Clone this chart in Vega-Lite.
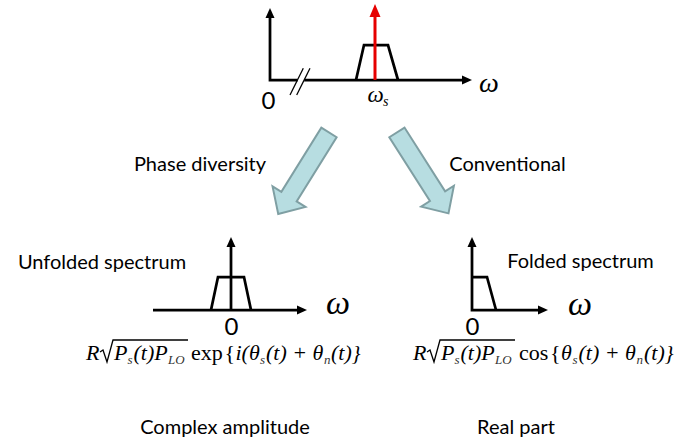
{
  "$schema": "https://vega.github.io/schema/vega-lite/v6.json",
  "width": 693,
  "height": 443,
  "autosize": {"type": "fit", "contains": "padding"},
  "padding": 0,
  "background": "white",
  "config": {"view": {"stroke": null}},
  "datasets": {
    "arrows": [
      {"name": "Phase diversity", "x": 303.6, "y": 173.2},
      {"name": "Conventional", "x": 422.7, "y": 172.9}
    ],
    "lines": [
      {"seg": "top-axis", "i": 0, "x": 270, "y": 14},
      {"seg": "top-axis", "i": 1, "x": 270, "y": 80},
      {"seg": "top-axis", "i": 2, "x": 297.5, "y": 80},
      {"seg": "top-axis-2", "i": 0, "x": 304.2, "y": 80},
      {"seg": "top-axis-2", "i": 1, "x": 464, "y": 80},
      {"seg": "top-band", "i": 0, "x": 356, "y": 80},
      {"seg": "top-band", "i": 1, "x": 364, "y": 45},
      {"seg": "top-band", "i": 2, "x": 388, "y": 45},
      {"seg": "top-band", "i": 3, "x": 398, "y": 80},
      {"seg": "ul-h", "i": 0, "x": 153, "y": 310},
      {"seg": "ul-h", "i": 1, "x": 299, "y": 310},
      {"seg": "ul-v", "i": 0, "x": 231, "y": 310},
      {"seg": "ul-v", "i": 1, "x": 231, "y": 244},
      {"seg": "ul-band", "i": 0, "x": 211, "y": 310},
      {"seg": "ul-band", "i": 1, "x": 218, "y": 277},
      {"seg": "ul-band", "i": 2, "x": 244, "y": 277},
      {"seg": "ul-band", "i": 3, "x": 251, "y": 310},
      {"seg": "ur-axes", "i": 0, "x": 472, "y": 244},
      {"seg": "ur-axes", "i": 1, "x": 472, "y": 310},
      {"seg": "ur-axes", "i": 2, "x": 540, "y": 310},
      {"seg": "ur-band", "i": 0, "x": 472, "y": 277},
      {"seg": "ur-band", "i": 1, "x": 487, "y": 277},
      {"seg": "ur-band", "i": 2, "x": 496, "y": 310}
    ],
    "thin": [
      {"seg": "break-1", "i": 0, "x": 290, "y": 95},
      {"seg": "break-1", "i": 1, "x": 303.3, "y": 68.3},
      {"seg": "break-2", "i": 0, "x": 296.7, "y": 95},
      {"seg": "break-2", "i": 1, "x": 310, "y": 68.3},
      {"seg": "root-left", "i": 0, "x": 100, "y": 352},
      {"seg": "root-left", "i": 1, "x": 103, "y": 350},
      {"seg": "root-left", "i": 2, "x": 107, "y": 362},
      {"seg": "root-left", "i": 3, "x": 113, "y": 340},
      {"seg": "root-left", "i": 4, "x": 188, "y": 340},
      {"seg": "root-right", "i": 0, "x": 427, "y": 352},
      {"seg": "root-right", "i": 1, "x": 430, "y": 350},
      {"seg": "root-right", "i": 2, "x": 434, "y": 362},
      {"seg": "root-right", "i": 3, "x": 440, "y": 340},
      {"seg": "root-right", "i": 4, "x": 515, "y": 340}
    ],
    "red": [
      {"seg": "carrier", "i": 0, "x": 375, "y": 80},
      {"seg": "carrier", "i": 1, "x": 375, "y": 16}
    ],
    "redhead": [{"x": 375, "y": 4}],
    "upheads": [
      {"x": 270, "y": 8},
      {"x": 231, "y": 237},
      {"x": 472, "y": 237}
    ],
    "rightheads": [
      {"x": 472, "y": 80},
      {"x": 307, "y": 310},
      {"x": 548, "y": 310}
    ],
    "labels": [
      {"t": "Phase diversity", "x": 200, "y": 165},
      {"t": "Conventional", "x": 507.5, "y": 165},
      {"t": "Unfolded spectrum", "x": 102, "y": 263},
      {"t": "Folded spectrum", "x": 580.5, "y": 262},
      {"t": "Complex amplitude", "x": 225, "y": 428},
      {"t": "Real part", "x": 516, "y": 428}
    ],
    "zeros": [
      {"t": "0", "x": 268.5, "y": 101.5},
      {"t": "0", "x": 231.5, "y": 328},
      {"t": "0", "x": 472.5, "y": 328}
    ],
    "omegabig": [
      {"t": "ω", "x": 338, "y": 314},
      {"t": "ω", "x": 580, "y": 315}
    ],
    "omegatop": [{"t": "ω", "x": 489, "y": 92}],
    "omegas": [{"t": "ω", "x": 375.5, "y": 102}],
    "omegassub": [{"t": "s", "x": 383, "y": 106}],
    "fitalic": [
      {"t": "R", "x": 86, "y": 360},
      {"t": "P", "x": 114, "y": 360},
      {"t": "(t)P", "x": 133.5, "y": 360},
      {"t": "i(θ", "x": 235.5, "y": 360},
      {"t": "(t) + θ", "x": 266, "y": 360},
      {"t": "(t)}", "x": 331, "y": 360},
      {"t": "R", "x": 413, "y": 360},
      {"t": "P", "x": 441, "y": 360},
      {"t": "(t)P", "x": 460.5, "y": 360},
      {"t": "θ", "x": 561, "y": 360},
      {"t": "(t) + θ", "x": 578.5, "y": 360},
      {"t": "(t)}", "x": 644, "y": 360}
    ],
    "fupright": [
      {"t": "exp", "x": 191, "y": 360},
      {"t": "{", "x": 224.5, "y": 360},
      {"t": "cos", "x": 519, "y": 360},
      {"t": "{", "x": 550, "y": 360}
    ],
    "fsub": [
      {"t": "s", "x": 127.5, "y": 364},
      {"t": "LO", "x": 168, "y": 364},
      {"t": "s", "x": 260, "y": 364},
      {"t": "n", "x": 324, "y": 364},
      {"t": "s", "x": 454.5, "y": 364},
      {"t": "LO", "x": 495, "y": 364},
      {"t": "s", "x": 572.5, "y": 364},
      {"t": "n", "x": 636.5, "y": 364}
    ]
  },
  "encoding": {
    "x": {"field": "x", "type": "quantitative", "scale": {"domain": [0, 693], "nice": false, "zero": false}, "axis": null},
    "y": {"field": "y", "type": "quantitative", "scale": {"domain": [0, 443], "reverse": true, "nice": false, "zero": false}, "axis": null}
  },
  "layer": [
    {
      "data": {"name": "arrows"},
      "transform": [{"filter": "datum.name === 'Phase diversity'"}],
      "mark": {"type": "point", "shape": "M-0.1875,-1L0.1875,-1L0.1875,0.575L0.404,0.575L0,1L-0.404,0.575L-0.1875,0.575Z", "size": 9216, "angle": 31.9, "filled": true, "fill": "#b7dde1", "stroke": "#7f9fa3", "strokeWidth": 2, "opacity": 1, "fillOpacity": 1, "strokeOpacity": 1}
    },
    {
      "data": {"name": "arrows"},
      "transform": [{"filter": "datum.name === 'Conventional'"}],
      "mark": {"type": "point", "shape": "M-0.1875,-1L0.1875,-1L0.1875,0.575L0.404,0.575L0,1L-0.404,0.575L-0.1875,0.575Z", "size": 9216, "angle": 327.5, "filled": true, "fill": "#b7dde1", "stroke": "#7f9fa3", "strokeWidth": 2, "opacity": 1, "fillOpacity": 1, "strokeOpacity": 1}
    },
    {
      "data": {"name": "lines"},
      "mark": {"type": "line", "color": "black", "strokeWidth": 2.75, "strokeCap": "butt", "strokeJoin": "miter"},
      "encoding": {"detail": {"field": "seg"}, "order": {"field": "i"}}
    },
    {
      "data": {"name": "thin"},
      "mark": {"type": "line", "color": "black", "strokeWidth": 1.3, "strokeCap": "butt", "strokeJoin": "miter"},
      "encoding": {"detail": {"field": "seg"}, "order": {"field": "i"}}
    },
    {
      "data": {"name": "red"},
      "mark": {"type": "line", "color": "#e60000", "strokeWidth": 3, "strokeCap": "butt"},
      "encoding": {"detail": {"field": "seg"}, "order": {"field": "i"}}
    },
    {
      "data": {"name": "redhead"},
      "mark": {"type": "point", "shape": "M0,0L0.55,1.3L-0.55,1.3Z", "size": 400, "filled": true, "color": "#e60000", "opacity": 1, "strokeWidth": 0}
    },
    {
      "data": {"name": "upheads"},
      "mark": {"type": "point", "shape": "M0,0L0.45,1L-0.45,1Z", "size": 400, "filled": true, "color": "black", "opacity": 1, "strokeWidth": 0}
    },
    {
      "data": {"name": "rightheads"},
      "mark": {"type": "point", "shape": "M0,0L-1,-0.45L-1,0.45Z", "size": 400, "filled": true, "color": "black", "opacity": 1, "strokeWidth": 0}
    },
    {
      "data": {"name": "labels"},
      "mark": {"type": "text", "font": "Lato", "fontSize": 20, "color": "black", "align": "center", "baseline": "middle"},
      "encoding": {"text": {"field": "t"}}
    },
    {
      "data": {"name": "zeros"},
      "mark": {"type": "text", "font": "Lato", "fontSize": 24, "color": "black", "align": "center", "baseline": "middle"},
      "encoding": {"text": {"field": "t"}}
    },
    {
      "data": {"name": "omegabig"},
      "mark": {"type": "text", "font": "Liberation Serif", "fontStyle": "italic", "fontSize": 34, "color": "black", "align": "center", "baseline": "alphabetic"},
      "encoding": {"text": {"field": "t"}}
    },
    {
      "data": {"name": "omegatop"},
      "mark": {"type": "text", "font": "Liberation Serif", "fontStyle": "italic", "fontSize": 28, "color": "black", "align": "center", "baseline": "alphabetic"},
      "encoding": {"text": {"field": "t"}}
    },
    {
      "data": {"name": "omegas"},
      "mark": {"type": "text", "font": "Liberation Serif", "fontStyle": "italic", "fontSize": 23, "color": "black", "align": "center", "baseline": "alphabetic"},
      "encoding": {"text": {"field": "t"}}
    },
    {
      "data": {"name": "omegassub"},
      "mark": {"type": "text", "font": "Liberation Serif", "fontStyle": "italic", "fontSize": 14, "color": "black", "align": "left", "baseline": "alphabetic"},
      "encoding": {"text": {"field": "t"}}
    },
    {
      "data": {"name": "fitalic"},
      "mark": {"type": "text", "font": "Liberation Serif", "fontStyle": "italic", "fontSize": 22, "color": "black", "align": "left", "baseline": "alphabetic"},
      "encoding": {"text": {"field": "t"}}
    },
    {
      "data": {"name": "fupright"},
      "mark": {"type": "text", "font": "Liberation Serif", "fontSize": 22, "color": "black", "align": "left", "baseline": "alphabetic"},
      "encoding": {"text": {"field": "t"}}
    },
    {
      "data": {"name": "fsub"},
      "mark": {"type": "text", "font": "Liberation Serif", "fontStyle": "italic", "fontSize": 13, "color": "#333333", "align": "left", "baseline": "alphabetic"},
      "encoding": {"text": {"field": "t"}}
    }
  ]
}
